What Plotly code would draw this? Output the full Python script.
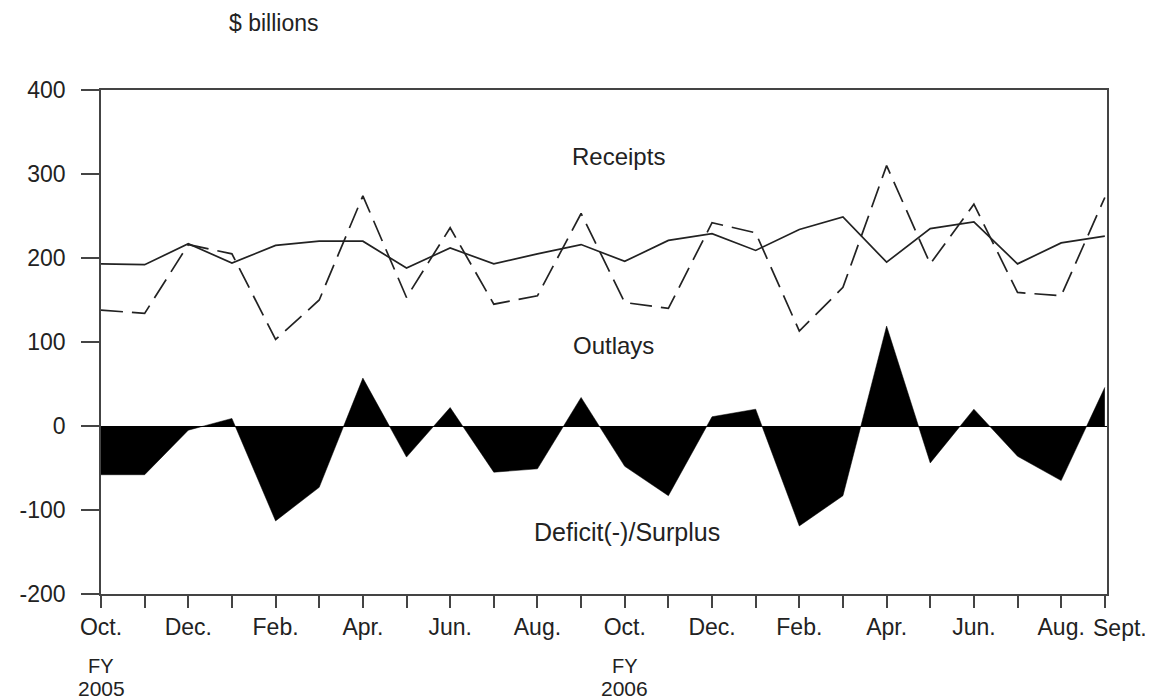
import plotly.graph_objects as go

months = ["Oct.", "Nov.", "Dec.", "Jan.", "Feb.", "Mar.", "Apr.", "May", "Jun.", "Jul.", "Aug.", "Sept.",
          "Oct.", "Nov.", "Dec.", "Jan.", "Feb.", "Mar.", "Apr.", "May", "Jun.", "Jul.", "Aug.", "Sept."]
tick_labels = ["Oct.", "", "Dec.", "", "Feb.", "", "Apr.", "", "Jun.", "", "Aug.", "",
               "Oct.", "", "Dec.", "", "Feb.", "", "Apr.", "", "Jun.", "", "Aug.", ""]
last_label = "Sept."

receipts = [138, 134, 216, 205, 103, 150, 274, 153, 236, 145, 155, 253,
            147, 140, 242, 230, 113, 165, 310, 193, 264, 159, 155, 272]
outlays = [193, 192, 217, 194, 215, 220, 220, 188, 212, 193, 205, 216,
           196, 221, 229, 209, 234, 249, 195, 235, 243, 193, 218, 226]
deficit = [-58, -58, -5, 9, -113, -73, 57, -37, 22, -55, -51, 34,
           -48, -83, 11, 20, -119, -83, 119, -44, 20, -36, -65, 46]

y_ticks = [-200, -100, 0, 100, 200, 300, 400]
y_tick_text = ["-200", "-100", "0", "100", "200", "300", "400"]

x = list(range(len(months)))
ink = "#222222"
font = "Liberation Sans, Arial, sans-serif"

fig = go.Figure()
fig.add_trace(go.Scatter(x=x, y=deficit, mode="lines", fill="tozeroy",
                         fillcolor="black", line=dict(color="black", width=0.5),
                         name="Deficit(-)/Surplus"))
fig.add_trace(go.Scatter(x=x, y=outlays, mode="lines",
                         line=dict(color=ink, width=1.7), name="Outlays"))
fig.add_trace(go.Scatter(x=x, y=receipts, mode="lines",
                         line=dict(color=ink, width=1.7, dash="22px,9px"), name="Receipts"))

fig.update_layout(
    width=1145, height=691,
    margin=dict(l=85, r=46, t=82, b=105),
    paper_bgcolor="white", plot_bgcolor="white",
    showlegend=False,
    font=dict(family=font, size=22, color=ink),
    xaxis=dict(range=[0, 23.05], tickvals=x, ticktext=tick_labels,
               showgrid=False, zeroline=False, showline=True, linecolor="#444",
               linewidth=1.5, mirror=True, ticks="outside", ticklen=12,
               tickwidth=1.5, tickcolor="#444", tickangle=0,
               tickfont=dict(size=23)),
    yaxis=dict(range=[-200, 400], tickvals=y_ticks, ticktext=y_tick_text,
               showgrid=False, zeroline=True, zerolinecolor="black", zerolinewidth=1,
               showline=True, linecolor="#444", linewidth=1.5, mirror=True,
               ticks="outside", ticklen=18, tickwidth=1.5, tickcolor="#444",
               ticklabelstandoff=11, tickfont=dict(size=23)),
)

ann = [
    dict(text="$ billions", x=0.1716, y=1.133, xref="paper", yref="paper", size=23, xs=0),
    dict(text="Receipts", x=11.86, y=321, xref="x", yref="y", size=24, xs=0),
    dict(text="Outlays", x=11.75, y=96, xref="x", yref="y", size=24, xs=0),
    dict(text="Deficit(-)/Surplus", x=12.05, y=-126, xref="x", yref="y", size=25, xs=0),
    dict(text=last_label, x=23, y=-0.068, xref="x", yref="paper", size=23, xs=15),
    dict(text="FY", x=0, y=-0.143, xref="x", yref="paper", size=20, xs=0),
    dict(text="2005", x=0, y=-0.187, xref="x", yref="paper", size=21, xs=0),
    dict(text="FY", x=12, y=-0.143, xref="x", yref="paper", size=20, xs=0),
    dict(text="2006", x=12, y=-0.187, xref="x", yref="paper", size=21, xs=0),
]
for a in ann:
    fig.add_annotation(text=a["text"], x=a["x"], y=a["y"], xref=a["xref"], yref=a["yref"],
                       showarrow=False, xanchor="center", yanchor="middle", xshift=a["xs"],
                       font=dict(family=font, size=a["size"], color=ink))

fig.write_html("out.html")
